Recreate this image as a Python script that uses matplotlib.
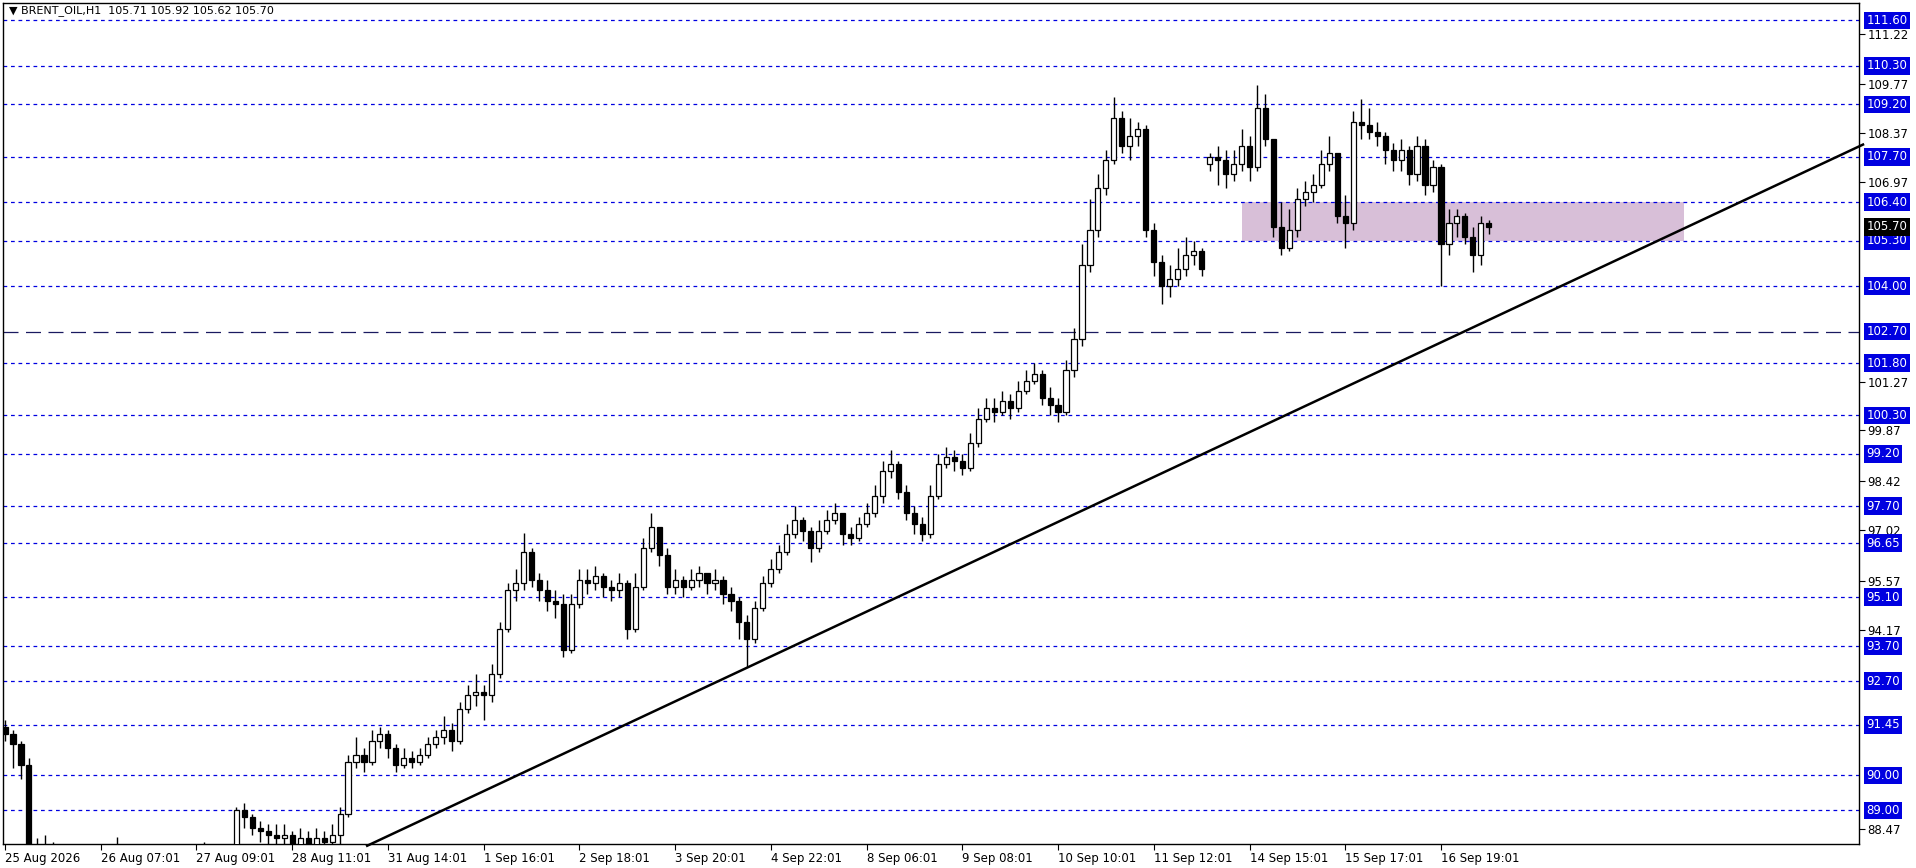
import matplotlib.pyplot as plt
from matplotlib.patches import Rectangle

# Candle data (every bar: close, high, low)
closes = [91.2, 90.9, 90.3,
          87.5, 87.7, 87.6, 87.8, 87.4, 87.6, 87.3, 87.2, 87.4, 87.1, 87.0, 87.3, 87.2,
          87.4, 87.5, 87.3, 87.1, 87.2, 87.4, 87.6, 87.5, 87.3, 87.4, 87.6, 87.7, 87.8,
          89.0, 88.8, 88.5, 88.4, 88.3, 88.2, 88.3, 88.0, 88.2, 88.0, 88.2, 88.1, 88.3,
          88.9, 90.4, 90.6, 90.4, 91.0, 91.2, 90.8, 90.3, 90.5, 90.4,
          90.6, 90.9, 91.1, 91.3, 91.0, 91.9, 92.3, 92.4, 92.3, 92.9,
          94.2, 95.3, 95.5, 96.4, 95.6, 95.3, 95.0, 94.9, 93.6, 94.9,
          95.6, 95.5, 95.7, 95.4, 95.3, 95.5, 94.2, 95.4, 96.5, 97.1,
          96.3, 95.4, 95.6, 95.4, 95.6, 95.8, 95.5, 95.6, 95.2, 95.0,
          94.4, 93.9, 94.8, 95.5, 95.9, 96.4, 96.9, 97.3, 97.0, 96.5,
          97.0, 97.3, 97.5, 96.9, 96.8, 97.2, 97.5, 98.0, 98.7, 98.9,
          98.1, 97.5, 97.2, 96.9, 98.0, 98.9, 99.1, 99.0, 98.8, 99.5,
          100.2, 100.5, 100.4, 100.7, 100.5, 101.0, 101.3, 101.5, 100.8, 100.6,
          100.4, 101.6, 102.5, 104.6, 105.6, 106.8, 107.6, 108.8, 108.0, 108.3,
          108.5, 105.6, 104.7, 104.0, 104.2, 104.5, 104.9, 105.0, 104.5,
          107.7, 107.6, 107.2, 107.5, 108.0, 107.4, 109.1, 108.2, 105.7, 105.1,
          105.6, 106.5, 106.7, 106.9, 107.5, 107.8, 106.0, 105.8, 108.7, 108.6,
          108.4, 108.3, 107.9, 107.6, 107.9, 107.2, 108.0, 106.9, 107.4, 105.2,
          105.8, 106.0, 105.4, 104.9, 105.8, 105.7]
highs = [91.6, 91.3, 91.0,
         90.5, 88.2, 88.3, 88.1, 88.0, 87.9, 87.7, 87.6, 87.7, 87.5, 87.4, 88.25, 87.6,
         87.7, 87.8, 87.7, 87.5, 87.5, 87.7, 87.9, 87.9, 87.7, 88.1, 87.9, 88.0, 88.0,
         89.1, 89.2, 88.9, 88.7, 88.6, 88.6, 88.6, 88.4, 88.5, 88.4, 88.5, 88.4, 88.6,
         89.1, 90.6, 91.1, 90.8, 91.3, 91.4, 91.3, 90.9, 90.8, 90.7,
         90.8, 91.1, 91.3, 91.7, 91.5, 92.1, 92.6, 92.9, 92.6, 93.2,
         94.4, 95.5, 95.9, 96.95, 96.5, 95.8, 95.6, 95.3, 95.2, 95.2,
         95.9, 95.9, 96.0, 95.8, 95.6, 95.8, 95.6, 95.8, 96.8, 97.5,
         97.1, 96.5, 95.9, 95.7, 95.9, 96.0, 95.8, 95.9, 95.7, 95.4,
         95.1, 94.6, 95.0, 95.7, 96.2, 96.6, 97.2, 97.7, 97.4, 97.1,
         97.3, 97.6, 97.8, 97.5, 97.1, 97.4, 97.8, 98.3, 99.0, 99.3,
         99.0, 98.3, 97.7, 97.4, 98.3, 99.2, 99.4, 99.3, 99.2, 99.8,
         100.5, 100.8, 100.8, 101.0, 100.9, 101.3, 101.6, 101.8, 101.6, 101.1,
         100.8, 101.9, 102.8, 105.2, 106.5, 107.2, 107.9, 109.4, 109.0, 108.8,
         108.7, 108.6, 105.8, 104.9, 104.6, 105.1, 105.4, 105.3, 105.1,
         107.8, 108.0, 107.9, 107.9, 108.5, 108.3, 109.75, 109.5, 108.2, 106.4,
         106.2, 106.8, 107.0, 107.2, 107.9, 108.3, 107.8, 106.6, 109.0, 109.35,
         109.1, 108.7, 108.4, 108.1, 108.2, 108.0, 108.3, 108.2, 107.6, 107.5,
         106.2, 106.2, 106.1, 105.7, 106.0, 105.9]
lows = [91.0, 90.2, 89.9,
        87.3, 87.3, 87.2, 87.4, 87.1, 87.2, 86.9, 86.9, 87.0, 86.8, 86.7, 86.9, 86.9,
        87.0, 87.1, 86.9, 86.8, 86.9, 87.0, 87.2, 87.2, 87.0, 87.1, 87.2, 87.4, 87.5,
        87.8, 88.5, 88.3, 88.1, 88.0, 87.9, 88.0, 87.8, 87.9, 87.8, 87.9, 87.8, 88.0,
        88.0, 88.8, 90.2, 90.1, 90.3, 90.8, 90.5, 90.1, 90.2, 90.2,
        90.3, 90.5, 90.8, 90.9, 90.7, 90.9, 91.8, 92.0, 91.6, 92.1,
        92.8, 94.1, 95.0, 95.3, 95.4, 95.0, 94.7, 94.5, 93.4, 93.5,
        94.8, 95.2, 95.3, 95.1, 95.0, 95.1, 93.9, 94.1, 95.3, 96.4,
        96.0, 95.2, 95.2, 95.1, 95.3, 95.4, 95.2, 95.3, 94.9, 94.7,
        93.9, 93.1, 93.8, 94.7, 95.4, 95.8, 96.3, 96.8, 96.7, 96.1,
        96.4, 96.9, 97.2, 96.6, 96.6, 96.7, 97.1, 97.4, 97.8, 98.5,
        97.9, 97.3, 96.9, 96.7, 96.8, 97.9, 98.8, 98.7, 98.6, 98.7,
        99.4, 100.1, 100.1, 100.3, 100.2, 100.4, 100.9, 101.2, 100.6, 100.3,
        100.1, 100.3, 101.4, 102.3, 104.4, 105.4, 106.6, 107.5, 107.8, 107.6,
        108.0, 105.4, 104.3, 103.5, 103.7, 104.0, 104.3, 104.6, 104.3,
        107.3, 106.9, 106.8, 107.0, 107.3, 107.0, 107.3, 108.0, 105.4, 104.9,
        105.0, 105.4, 106.3, 106.4, 106.8, 107.3, 105.8, 105.1, 105.6, 108.2,
        108.2, 108.0, 107.5, 107.3, 107.3, 106.9, 107.0, 106.6, 106.7, 104.0,
        104.9, 105.4, 105.2, 104.4, 104.6, 105.5]
first_open = 91.4
gap_opens = {151: 107.5}   # weekend gap on 14 Sep

levels = [111.60, 110.30, 109.20, 107.70, 106.40, 105.30, 104.00, 101.80, 100.30,
          99.20, 97.70, 96.65, 95.10, 93.70, 92.70, 91.45, 90.00, 89.00]
mid_level = 102.70
# scale values that are not hidden behind the level boxes
scale_ticks = [111.22, 109.77, 108.37, 106.97, 101.27, 99.87, 98.42,
               97.02, 95.57, 94.17, 88.47]
date_labels = ["25 Aug 2026", "26 Aug 07:01", "27 Aug 09:01", "28 Aug 11:01", "31 Aug 14:01",
               "1 Sep 16:01", "2 Sep 18:01", "3 Sep 20:01", "4 Sep 22:01", "8 Sep 06:01",
               "9 Sep 08:01", "10 Sep 10:01", "11 Sep 12:01", "14 Sep 15:01", "15 Sep 17:01",
               "16 Sep 19:01"]
date_pos = [0, 12, 24, 36, 48, 60, 72, 84, 96, 108, 120, 132, 144, 156, 168, 180]
last_price = 105.70
zone = (155, 210.5, 105.30, 106.40)
trend = ((45.4, 87.99), (232.9, 108.05))

W, H = 1916, 868
fig = plt.figure(figsize=(W / 100, H / 100), dpi=100)
ax = fig.add_axes([3 / W, 24 / H, 1856 / W, 841 / H])
ax.set_xlim(-0.25, 232.4)
ax.set_ylim(88.04, 112.1)

# support / resistance levels
for lv in levels:
    ax.axhline(lv, color='#0000e0', lw=0.9, ls=(0, (3, 3)), zorder=1)
ax.axhline(mid_level, color='#1a1a60', lw=0.9, ls=(0, (12, 6)), zorder=1)

ax.add_patch(Rectangle((zone[0], zone[2]), zone[1] - zone[0], zone[3] - zone[2],
                       facecolor='#d8bfd8', edgecolor='none', zorder=0.5))

# candles
prev = first_open
for i, (c, h, l) in enumerate(zip(closes, highs, lows)):
    o = gap_opens.get(i, prev)
    ax.vlines(i, l, h, color='black', lw=1, zorder=2)
    bull = c >= o
    lo_b, hi_b = min(o, c), max(o, c)
    ax.add_patch(Rectangle((i - 0.32, lo_b), 0.64, max(hi_b - lo_b, 0.03),
                           facecolor='white' if bull else 'black',
                           edgecolor='black', lw=0.9, zorder=3))
    prev = c

ax.plot([trend[0][0], trend[1][0]], [trend[0][1], trend[1][1]], color='black', lw=1.8,
        zorder=4, clip_on=False)

# axes styling like a trading terminal
for s in ax.spines.values():
    s.set_linewidth(1)
ax.yaxis.tick_right()
ax.set_yticks(scale_ticks)
ax.set_yticklabels([f"{t:.2f}" for t in scale_ticks], fontsize=8.5)
ax.tick_params(axis='y', length=4, pad=2)
ax.set_xticks(date_pos)
ax.set_xticklabels(date_labels, fontsize=8.5, ha='left')
ax.tick_params(axis='x', length=4, pad=2)

box = dict(boxstyle='square,pad=0.2', facecolor='#0000e0', edgecolor='none')
for lv in levels + [mid_level]:
    ax.text(1.004, lv, f"{lv:.2f}", transform=ax.get_yaxis_transform(), fontsize=8.5,
            color='white', va='center', ha='left', zorder=10, bbox=box)
ax.text(1.004, last_price, f"{last_price:.2f}", transform=ax.get_yaxis_transform(), fontsize=8.5,
        color='white', va='center', ha='left', zorder=11,
        bbox=dict(boxstyle='square,pad=0.2', facecolor='black', edgecolor='none'))

ax.text(0.003, 0.997, "\u25bc BRENT_OIL,H1  105.71 105.92 105.62 105.70", transform=ax.transAxes,
        fontsize=8, va='top', ha='left')

fig.savefig('out.png', dpi=100)
